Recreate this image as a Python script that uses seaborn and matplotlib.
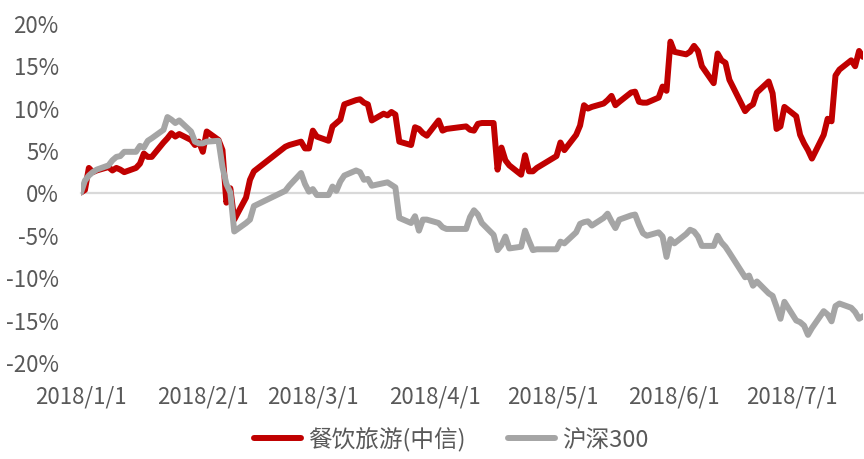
import pandas as pd
import seaborn as sns
import matplotlib.pyplot as plt
import matplotlib.dates as mdates

# 2018 交易日(含 1/1 基期), 剔除春节/清明/五一/端午休市
holidays = ['2018-02-15', '2018-02-16', '2018-02-19', '2018-02-20', '2018-02-21',
            '2018-04-05', '2018-04-06', '2018-04-30', '2018-05-01', '2018-06-18']
days = [pd.Timestamp('2018-01-01')] + [d for d in pd.bdate_range('2018-01-02', '2018-07-19')
                                       if d not in pd.to_datetime(holidays)]

# 累计涨跌幅(%), 按月
catering = [0.0,
    0.3, 2.9, 2.4, 2.6, 3.0, 2.6, 2.9, 2.7, 2.4, 2.9, 3.4, 4.6, 4.2, 4.2, 5.9, 6.4, 7.0, 6.6, 6.9, 6.2, 5.6, 6.0,
    4.8, 7.2, 6.2, 5.0, -1.2, 0.5, -3.2, -0.6, 1.5, 2.5, 5.4, 5.6, 6.0, 5.2, 5.2,
    7.3, 6.6, 6.1, 7.8, 8.2, 8.6, 10.4, 10.9, 11.0, 10.6, 10.4, 8.5, 9.3, 9.1, 9.5, 9.2, 6.0, 5.6, 7.7, 7.5, 7.0, 6.7,
    8.5, 7.3, 7.5, 7.8, 7.4, 7.3, 8.1, 8.2, 8.2, 2.7, 5.3, 3.8, 3.2, 2.1, 4.4, 2.5, 2.5, 2.9,
    4.3, 5.9, 5.0, 6.8, 7.9, 10.3, 9.9, 10.1, 10.5, 10.9, 11.4, 10.3, 10.7, 11.8, 11.9, 10.7, 10.6, 10.6, 11.2, 12.5, 12.0, 17.8,
    16.6, 16.3, 16.6, 17.3, 16.7, 14.9, 12.9, 16.4, 15.6, 15.3, 13.3, 9.6, 10.1, 10.4, 11.8, 13.1, 11.7, 7.5, 7.8, 10.1,
    9.0, 6.8, 5.8, 5.0, 4.0, 6.8, 8.7, 8.4, 13.8, 14.5, 15.6, 14.9, 16.7, 16.0]
hs300 = [0.0,
    1.4, 2.0, 2.4, 2.7, 3.2, 3.8, 4.2, 4.3, 4.8, 4.8, 5.5, 5.3, 6.1, 6.4, 7.4, 8.9, 8.6, 8.2, 8.5, 7.2, 6.0, 5.8,
    5.8, 6.0, 6.1, 3.0, 1.0, 0.0, -4.6, -3.6, -3.2, -1.6, 0.2, 0.8, 2.3, 1.0, 0.1,
    0.4, -0.3, -0.3, 0.7, 0.2, 1.3, 2.0, 2.6, 2.4, 1.5, 1.6, 0.8, 1.1, 1.2, 0.9, 0.6, -3.0, -3.6, -2.8, -4.5, -3.2, -3.2,
    -3.6, -4.1, -4.3, -4.3, -2.9, -2.1, -2.6, -3.6, -5.0, -6.8, -6.2, -5.2, -6.6, -6.4, -4.5, -5.7, -6.8, -6.7,
    -6.7, -5.8, -6.0, -4.7, -3.7, -3.5, -3.4, -3.9, -3.0, -2.5, -3.4, -4.2, -3.2, -2.7, -2.6, -3.8, -4.8, -5.1, -4.7, -5.2, -7.6, -5.5,
    -6.0, -4.9, -4.4, -4.6, -5.2, -6.3, -6.3, -5.1, -5.9, -6.4, -7.1, -10.0, -9.8, -11.0, -10.5, -11.9, -12.2, -13.5, -14.9, -12.9,
    -15.1, -15.3, -15.7, -16.8, -16.0, -14.0, -14.4, -15.2, -13.4, -13.1, -13.6, -14.1, -14.9, -14.6]
assert len(catering) == len(days) == len(hs300)

names = ['餐饮旅游(中信)', '沪深300']
colors = {'餐饮旅游(中信)': '#C00000', '沪深300': '#A5A5A5'}
y_ticks = [-20, -15, -10, -5, 0, 5, 10, 15, 20]
y_labels = [f'{v}%' for v in y_ticks]
x_ticks = pd.to_datetime(['2018-01-01', '2018-02-01', '2018-03-01', '2018-04-01',
                          '2018-05-01', '2018-06-01', '2018-07-01'])
x_labels = ['2018/1/1', '2018/2/1', '2018/3/1', '2018/4/1', '2018/5/1', '2018/6/1', '2018/7/1']

df = pd.DataFrame({'date': days * 2,
                   'value': catering + hs300,
                   'series': [names[0]] * len(days) + [names[1]] * len(days)})

sns.set_theme(style='white')
plt.rcParams['font.family'] = ['Noto Sans CJK SC', 'DejaVu Sans']
plt.rcParams['axes.unicode_minus'] = False
txt = '#595959'
axis_gray = '#D9D9D9'

fig = plt.figure(figsize=(8.64, 4.6), dpi=100)
ax = fig.add_axes([81 / 864, 97 / 460, (863 - 81) / 864, 339 / 460])
sns.lineplot(data=df, x='date', y='value', hue='series', palette=colors,
             linewidth=4.3, ax=ax, solid_joinstyle='round', solid_capstyle='round')

ax.set_ylim(-20, 20)
ax.set_yticks(y_ticks)
ax.set_yticklabels(y_labels)
ax.set_xlim(pd.Timestamp('2018-01-01'), pd.Timestamp('2018-07-19'))
ax.set_xlabel('')
ax.set_ylabel('')
for s in ['left', 'right', 'top']:
    ax.spines[s].set_visible(False)
ax.spines['bottom'].set_position(('data', 0))
ax.spines['bottom'].set_color(axis_gray)
ax.spines['bottom'].set_linewidth(1.6)
ax.spines['bottom'].set_zorder(0)
ax.set_xticks(x_ticks)
ax.tick_params(axis='x', direction='out', length=5, width=1.3, color=axis_gray, labelbottom=False)
ax.tick_params(axis='y', length=0, pad=16, labelsize=16, labelcolor=txt)

sec = ax.secondary_xaxis('bottom')
sec.set_xticks(mdates.date2num(x_ticks), labels=x_labels)
sec.tick_params(length=0, pad=16, labelsize=16, labelcolor=txt)
sec.spines['bottom'].set_visible(False)

sns.move_legend(ax, 'center', bbox_to_anchor=(451 / 864, 20 / 460), bbox_transform=fig.transFigure,
                ncol=2, frameon=False, title=None, fontsize=17, labelcolor=txt,
                handlelength=2.0, handletextpad=0.3, columnspacing=1.8)

fig.savefig('out.png', dpi=100)
